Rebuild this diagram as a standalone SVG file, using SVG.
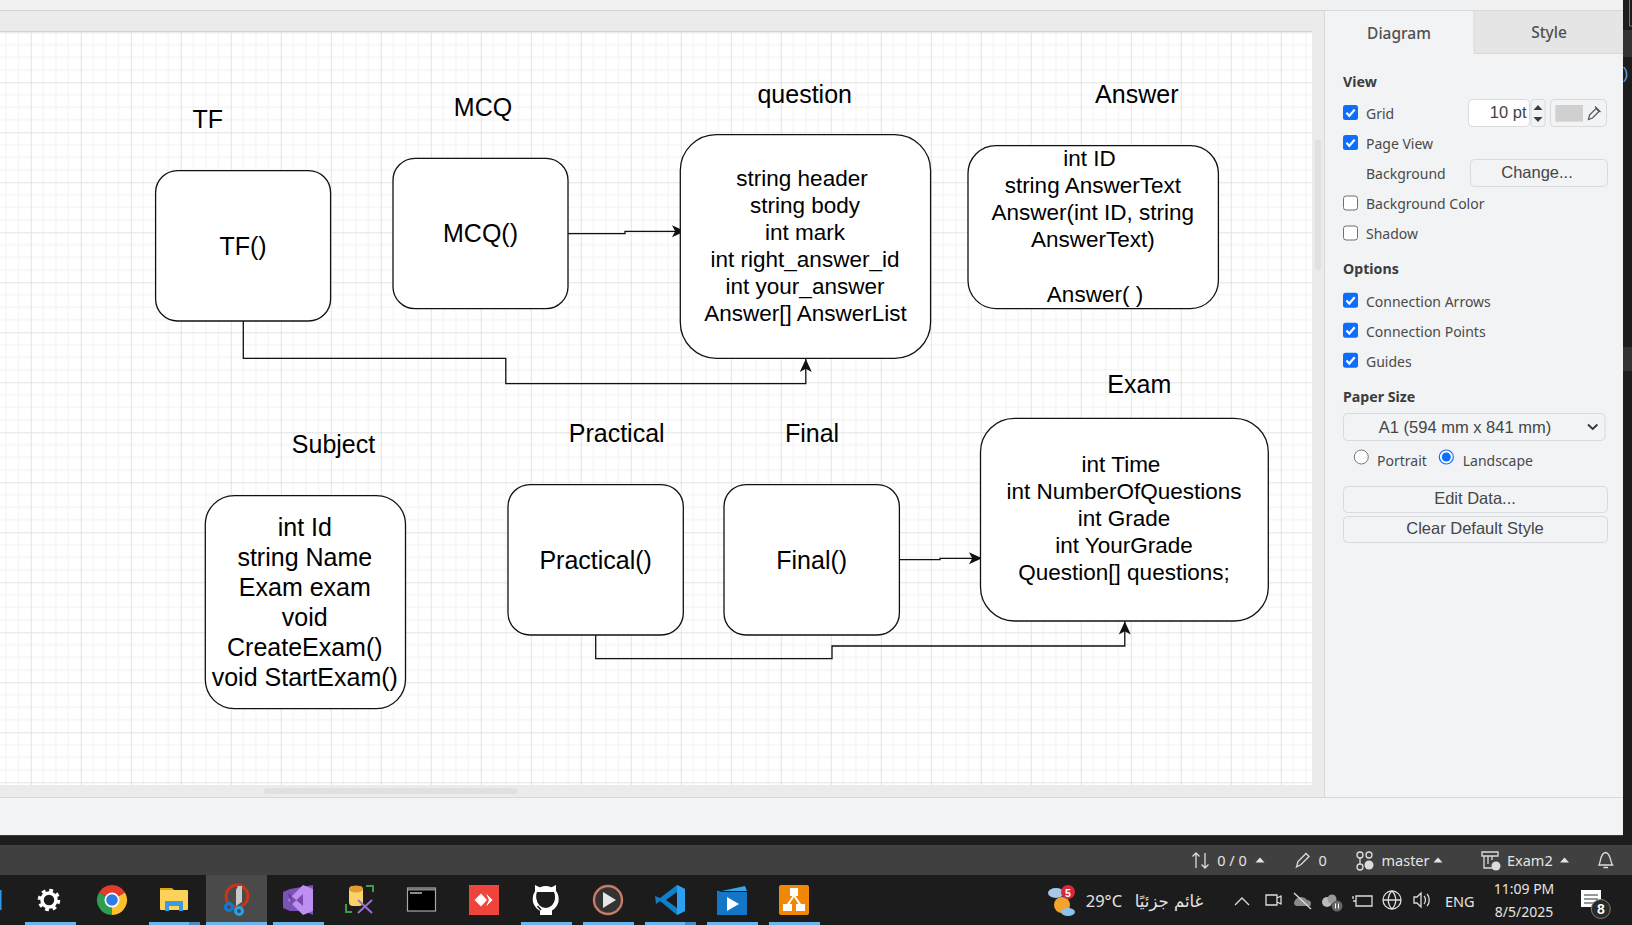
<svg xmlns="http://www.w3.org/2000/svg" width="1632" height="925" viewBox="0 0 1632 925">
<style>
text{font-family:"Liberation Sans",Arial,sans-serif;fill:#000}
.t{font-size:25px;text-anchor:middle}
.b{font-size:22.5px;text-anchor:middle}
.box{fill:#fff;stroke:#111;stroke-width:1.3}
.edge{fill:none;stroke:#111;stroke-width:1.3;marker-end:url(#arr)}
.ui{font-family:"Noto Sans","Open Sans",sans-serif;font-size:14px;fill:#4a4a4a}
.h{font-family:"Noto Sans","Open Sans",sans-serif;font-size:14.2px;font-weight:700;fill:#3c3c3c}
.tab{font-family:"Noto Sans","Open Sans",sans-serif;font-size:15.5px;font-weight:500;fill:#505050;text-anchor:middle}
.btn{fill:#f1f3f5;stroke:#d9dade;stroke-width:1}
.btxt{font-size:16.5px;fill:#454545;text-anchor:middle}
.cb{fill:#fff;stroke:#6f6f6f;stroke-width:1}
.s{font-family:"Noto Sans","Open Sans",sans-serif;font-size:14.5px;fill:#e4e4e4}
.ic{fill:none;stroke:#dcdcdc;stroke-width:1.3}
.ul{fill:#6cb4ee}
</style>
<defs>
<pattern id="grid" patternUnits="userSpaceOnUse" x="30.8" y="32.3" width="50" height="50">
<rect width="50" height="50" fill="#fff"/>
<path d="M12.5 0V50M25 0V50M37.5 0V50M0 12.5H50M0 25H50M0 37.5H50" stroke="#f5f5f5" stroke-width="1.3" fill="none"/>
<path d="M0.4 0V50M0 0.4H50" stroke="#e0e0e0" stroke-width="1" fill="none"/>
</pattern>
<marker id="arr" markerUnits="userSpaceOnUse" markerWidth="15" markerHeight="15" refX="13" refY="7" orient="auto">
<path d="M0 1L13 7L0 13L3.2 7Z" fill="#111"/>
</marker>
<g id="chk"><rect width="15" height="15" rx="2.5" fill="#0d6efd"/><path d="M3.4 7.8L6.3 10.8L11.7 4.6" fill="none" stroke="#fff" stroke-width="2.2"/></g>
<g id="caret"><path d="M-4.5 2.5L0 -2.5L4.5 2.5Z" fill="#e4e4e4"/></g>
</defs>

<g id="chrome-bg">
<rect width="1632" height="925" fill="#1d1d1d"/>
<rect x="0" y="0" width="1623" height="10" fill="#f0f1f3"/>
<rect x="0" y="10" width="1325" height="22" fill="#ebebeb"/>
<path d="M0 10.5H1325M0 31.5H1312" stroke="#d2d2d2" stroke-width="1"/>
<rect x="0" y="32" width="1312" height="753" fill="url(#grid)"/>
<rect x="0" y="785" width="1325" height="12" fill="#ebebeb"/>
<rect x="264" y="788" width="253" height="6" rx="2" fill="#e0e0e0"/>
<rect x="1312" y="32" width="13" height="765" fill="#ebebeb"/>
<rect x="1315" y="140" width="6" height="130" rx="2" fill="#e0e0e0"/>
<rect x="0" y="797" width="1623" height="39" fill="#f1f3f5"/>
<path d="M0 797.5H1623" stroke="#d9d9d9" stroke-width="1"/>
<path d="M0 835.5H1623" stroke="#3a3a3a" stroke-width="1"/>
<rect x="1623" y="30" width="9" height="27" fill="#333"/>
<rect x="1623" y="347" width="9" height="24" fill="#333"/>
<path d="M1629.5 0V26H1632" fill="none" stroke="#7a60e0" stroke-width="1"/>
<text x="1623" y="79" font-size="16" style="fill:#5aa9e6">)</text>
</g>

<g id="connectors">
<path class="edge" d="M243.3 321V358.3H505.8V383.6H805.8V359"/>
<path class="edge" d="M568 233.6H625V231.3H685"/>
<path class="edge" d="M899.4 559.6H940V558.3H982"/>
<path class="edge" d="M595.7 635V658.6H832V646H1124.8V621.5"/>
</g>

<g id="node-tf">
<rect class="box" x="155.6" y="170.6" width="175" height="150.4" rx="22"/>
<text class="t" x="243" y="255">TF()</text>
<text class="t" x="207.7" y="127.7">TF</text>
</g>
<g id="node-mcq">
<rect class="box" x="393" y="158.3" width="175" height="150.4" rx="22"/>
<text class="t" x="480.5" y="242">MCQ()</text>
<text class="t" x="483" y="115.7">MCQ</text>
</g>
<g id="node-question">
<rect class="box" x="680.3" y="134.6" width="250.3" height="223.7" rx="36"/>
<text class="t" x="804.7" y="103">question</text>
<text class="b" x="802" y="186.3">string header</text>
<text class="b" x="805" y="213.3">string body</text>
<text class="b" x="805" y="240.3">int mark</text>
<text class="b" x="805" y="267.3">int right_answer_id</text>
<text class="b" x="805" y="294.3">int your_answer</text>
<text class="b" x="805.5" y="321.3">Answer[] AnswerList</text>
</g>
<g id="node-answer">
<rect class="box" x="968" y="145.6" width="250.4" height="163" rx="28"/>
<text class="t" x="1136.8" y="103">Answer</text>
<text class="b" x="1089.6" y="166.2">int ID</text>
<text class="b" x="1092.8" y="193.2">string AnswerText</text>
<text class="b" x="1092.8" y="220.2">Answer(int ID, string</text>
<text class="b" x="1092.8" y="247.2">AnswerText)</text>
<text class="b" x="1095" y="301.5">Answer( )</text>
</g>
<g id="node-subject">
<rect class="box" x="205.3" y="495.6" width="200.2" height="213" rx="29"/>
<text class="t" x="333.5" y="453">Subject</text>
<text class="t" x="304.8" y="536">int Id</text>
<text class="t" x="304.8" y="566">string Name</text>
<text class="t" x="304.8" y="596">Exam exam</text>
<text class="t" x="304.8" y="626">void</text>
<text class="t" x="304.8" y="656">CreateExam()</text>
<text class="t" x="304.8" y="686">void StartExam()</text>
</g>
<g id="node-practical">
<rect class="box" x="508" y="484.6" width="175.3" height="150.4" rx="22"/>
<text class="t" x="595.7" y="569.3">Practical()</text>
<text class="t" x="616.7" y="442.3">Practical</text>
</g>
<g id="node-final">
<rect class="box" x="724" y="484.6" width="175.4" height="150.4" rx="22"/>
<text class="t" x="811.7" y="569">Final()</text>
<text class="t" x="812" y="442">Final</text>
</g>
<g id="node-exam">
<rect class="box" x="980.5" y="418.3" width="287.8" height="202.7" rx="34"/>
<text class="t" x="1139.3" y="393">Exam</text>
<text class="b" x="1121" y="472.2">int Time</text>
<text class="b" x="1124" y="499.2">int NumberOfQuestions</text>
<text class="b" x="1124" y="526.2">int Grade</text>
<text class="b" x="1124" y="553.2">int YourGrade</text>
<text class="b" x="1124" y="580.2">Question[] questions;</text>
</g>

<g id="panel">
<rect x="1325" y="10" width="298" height="787" fill="#f1f3f5"/>
<path d="M1324.5 10V797" stroke="#d9d9d9" stroke-width="1"/>
<rect x="1474" y="11" width="149" height="42" fill="#e5e5e5"/>
<path d="M1325 10.5H1623M1474 11V53.5H1623" fill="none" stroke="#d9d9d9" stroke-width="1"/>
<text class="tab" x="1399" y="38.5">Diagram</text>
<text class="tab" x="1549" y="38">Style</text>

<text class="h" x="1343" y="87">View</text>
<use href="#chk" x="1343" y="105"/><text class="ui" x="1366" y="119">Grid</text>
<rect class="btn" x="1468.5" y="99.5" width="61" height="27" rx="4" style="fill:#fff"/>
<text x="1526.5" y="118" style="font-size:16.5px;fill:#454545;text-anchor:end">10 pt</text>
<rect class="btn" x="1531" y="99.5" width="14" height="27" rx="3"/>
<path d="M1533.5 110L1538 105L1542.5 110ZM1533.5 117L1538 122L1542.5 117Z" fill="#3c3c3c"/>
<rect class="btn" x="1550.5" y="99.5" width="56" height="27" rx="4"/>
<rect x="1555.3" y="105" width="27.7" height="16.7" fill="#d0d0d0"/>
<path d="M1588.5 119.5L1589.5 115L1596 108.5L1599 111.5L1592.5 118L1588.5 119.5ZM1595 106.5L1600.5 112" fill="none" stroke="#555" stroke-width="1.2"/>
<use href="#chk" x="1343" y="135"/><text class="ui" x="1366" y="149">Page View</text>
<text class="ui" x="1366" y="179">Background</text>
<rect class="btn" x="1470.5" y="159.5" width="137" height="27" rx="4"/>
<text class="btxt" x="1537" y="177.7">Change...</text>
<rect class="cb" x="1343.5" y="196" width="14" height="14" rx="2.5"/><text class="ui" x="1366" y="209">Background Color</text>
<rect class="cb" x="1343.5" y="226" width="14" height="14" rx="2.5"/><text class="ui" x="1366" y="239">Shadow</text>
<text class="h" x="1343" y="274.3">Options</text>
<use href="#chk" x="1343" y="292.7"/><text class="ui" x="1366" y="306.7">Connection Arrows</text>
<use href="#chk" x="1343" y="322.7"/><text class="ui" x="1366" y="336.7">Connection Points</text>
<use href="#chk" x="1343" y="352.7"/><text class="ui" x="1366" y="366.7">Guides</text>
<text class="h" x="1343" y="402">Paper Size</text>
<rect class="btn" x="1343.5" y="413.5" width="261.5" height="27" rx="4"/>
<text class="btxt" x="1465" y="433.3">A1 (594 mm x 841 mm)</text>
<path d="M1588 424.5L1592.7 429L1597.4 424.5" fill="none" stroke="#333" stroke-width="1.8"/>
<circle cx="1361.3" cy="457" r="7" fill="#fff" stroke="#777" stroke-width="1"/>
<text class="ui" x="1377" y="465.7">Portrait</text>
<circle cx="1446.3" cy="457" r="7" fill="#fff" stroke="#0d6efd" stroke-width="1.2"/>
<circle cx="1446.3" cy="457" r="4.5" fill="#0d6efd"/>
<text class="ui" x="1462.7" y="465.7">Landscape</text>
<rect class="btn" x="1343.5" y="486.5" width="264" height="26" rx="4"/>
<text class="btxt" x="1475" y="504">Edit Data...</text>
<rect class="btn" x="1343.5" y="516.5" width="264" height="26" rx="4"/>
<text class="btxt" x="1475" y="534">Clear Default Style</text>
</g>

<g id="statusbar">
<rect x="0" y="845" width="1632" height="30" fill="#404040"/>
<path class="ic" d="M1196 868V853M1192.5 856.5L1196 853L1199.5 856.5M1205 853V868M1201.5 864.5L1205 868L1208.5 864.5"/>
<text class="s" x="1232" y="865.7" text-anchor="middle">0 / 0</text>
<use href="#caret" x="1260" y="860"/>
<path class="ic" d="M1296.5 867L1298 861.5L1306 853.5L1309 856.5L1301 864.5Z"/>
<text class="s" x="1322.6" y="865.7" text-anchor="middle">0</text>
<path class="ic" d="M1360 858V864"/><circle class="ic" cx="1360" cy="855" r="3"/><circle class="ic" cx="1360" cy="867" r="3"/><circle class="ic" cx="1369" cy="855" r="3"/><circle cx="1369" cy="865" r="4.5" fill="#dcdcdc"/>
<text class="s" x="1381.5" y="865.7">master</text>
<use href="#caret" x="1438" y="860"/>
<path class="ic" d="M1482 852H1498V856H1482ZM1484 856V868H1494M1488 856V864M1492 856V860"/><circle cx="1496" cy="866" r="4.5" fill="#dcdcdc"/>
<text class="s" x="1507" y="865.7">Exam2</text>
<use href="#caret" x="1564.5" y="860"/>
<path class="ic" d="M1599 865C1601 862 1600 853 1605.6 852.5C1611 853 1610 862 1612.5 865ZM1603.5 867.5H1608"/>
</g>

<g id="taskbar">
<rect x="0" y="875" width="1632" height="50" fill="#1c1c1c"/>
<rect x="206" y="875" width="61" height="50" fill="#4a4a4a"/>
<rect x="0" y="890" width="1.5" height="20" fill="#2f9be8"/>
<rect class="ul" x="25" y="922" width="51" height="3"/>
<rect class="ul" x="149" y="922" width="40" height="3"/><rect x="189" y="922" width="11" height="3" fill="#4d8cc0"/>
<rect class="ul" x="206" y="922" width="61" height="3"/>
<rect class="ul" x="273" y="922" width="51" height="3"/>
<rect class="ul" x="521" y="922" width="51" height="3"/>
<rect class="ul" x="583" y="922" width="51" height="3"/>
<rect class="ul" x="645" y="922" width="40" height="3"/><rect x="685" y="922" width="11" height="3" fill="#4d8cc0"/>
<rect class="ul" x="707" y="922" width="51" height="3"/>
<rect class="ul" x="769" y="922" width="51" height="3"/>

<g id="ic-gear"><circle cx="49" cy="900" r="7" fill="none" stroke="#fff" stroke-width="3.5"/><circle cx="49" cy="900" r="9.5" fill="none" stroke="#fff" stroke-width="3.5" stroke-dasharray="3.7 3.76"/></g>
<g id="ic-chrome">
<path d="M112 900L99 892.5A15 15 0 0 1 125 892.5Z" fill="#e33b2e"/>
<path d="M112 900L125 892.5A15 15 0 0 1 112 915Z" fill="#fbc02d"/>
<path d="M112 900L112 915A15 15 0 0 1 99 892.5Z" fill="#2e9e4f"/>
<circle cx="112" cy="900" r="7.5" fill="#fff"/><circle cx="112" cy="900" r="5.8" fill="#2f7ae5"/>
</g>
<g id="ic-folder">
<path d="M160 888H172L175 891V895H160Z" fill="#e2a50f"/>
<rect x="160" y="890" width="28" height="20" rx="1" fill="#fcd25a"/>
<path d="M165 911V901H183V911H179V906H169V911Z" fill="#3a9be0"/>
</g>
<g id="ic-snip">
<circle cx="237" cy="896" r="11" fill="none" stroke="#c8361a" stroke-width="3"/>
<path d="M238 886L242 886L242 902L236 906L236 890Z" fill="#c9c9c9"/>
<circle cx="229" cy="907" r="3.5" fill="none" stroke="#0f7bd8" stroke-width="3"/>
<circle cx="239" cy="911" r="3.5" fill="none" stroke="#24a3ea" stroke-width="3"/>
</g>
<g id="ic-vs">
<path d="M283 892L290 889L313 885V915L304 911L290 911L283 908Z" fill="#7a52b8"/>
<path d="M303 885L313 889V911L303 915L288 900Z" fill="#bd8ff0"/>
<path d="M288 893L303 906V894L291 905Z" fill="#5c2d91" opacity=".7"/>
</g>
<g id="ic-sql">
<rect x="349" y="886" width="14" height="20" rx="4" fill="#f7d36a"/>
<ellipse cx="356" cy="889" rx="7" ry="3.5" fill="#e59a2d"/>
<path d="M366 886H373V892M346 904V912H352" fill="none" stroke="#3f9c44" stroke-width="2"/>
<path d="M358 900L372 913M372 900L358 913" stroke="#9a6fd0" stroke-width="2"/>
</g>
<g id="ic-term">
<rect x="407.5" y="888" width="28" height="23" fill="#000" stroke="#a8a8a8" stroke-width="1.2"/>
<path d="M407.5 889.5H435.5" stroke="#888" stroke-width="2"/>
<path d="M410 893H422" stroke="#bbb" stroke-width="1.5"/>
</g>
<g id="ic-anydesk">
<rect x="469" y="885" width="30" height="30" fill="#ef443b"/>
<path d="M481 893.5L487 900L481 906.5L474.5 900Z" fill="#fff"/>
<path d="M486 893.5L492.5 900L486 906.5L489 900Z" fill="#fff"/>
</g>
<g id="ic-github">
<circle cx="545.7" cy="899" r="11" fill="none" stroke="#fff" stroke-width="4"/>
<path d="M535 885L541 888H550L556 885V893H535ZM540 908H552V915H540Z" fill="#fff"/>
<path d="M537.5 906L541 910" stroke="#1c1c1c" stroke-width="1.5"/>
<path d="M537 892H554C557 899 553 906 546 906C539 906 534 899 537 892Z" fill="#1c1c1c"/>
</g>
<g id="ic-player">
<circle cx="608" cy="900" r="14" fill="#333" stroke="#c87b62" stroke-width="2.4"/>
<path d="M603 892L616 900L603 908Z" fill="#e6e6e6"/>
</g>
<g id="ic-vscode">
<path d="M677 885L685 889V911L677 915L660 901L656 904L655 896L660 898Z" fill="#0f7fcc"/>
<path d="M677 885L685 889V911L677 915Z" fill="#2ba0ee"/>
<path d="M677 892V908L666 900Z" fill="#1c1c1c"/>
</g>
<g id="ic-movie">
<path d="M717 892L745 886L747 891H717Z" fill="#38a4e8"/>
<rect x="717" y="892" width="30" height="23" fill="#1476c6"/>
<path d="M727 897L739 904L727 911Z" fill="#fff"/>
</g>
<g id="ic-drawio">
<rect x="779" y="885" width="30" height="30" rx="2" fill="#f08705"/>
<path d="M790 888H798V896H795.5L801 904H805V911H796V904H798.5L794 897L789.5 904H792V911H783V904H787L792.5 896H790Z" fill="#fff"/>
</g>

<g id="tray">
<circle cx="1062" cy="905" r="8" fill="#f2a32c"/>
<ellipse cx="1056" cy="893" rx="8" ry="5" fill="#a8c8ea"/>
<ellipse cx="1068" cy="912" rx="7" ry="4" fill="#8fc1ee"/>
<circle cx="1068" cy="892" r="7" fill="#d6293a"/>
<text x="1068" y="896.5" text-anchor="middle" style="font-size:10.5px;font-weight:700;fill:#fff">5</text>
<text class="s" x="1085.7" y="907" style="font-size:16.5px">29°C</text>
<text x="1169" y="907" text-anchor="middle" direction="rtl" style="font-family:'DejaVu Sans',sans-serif;font-size:16.5px;fill:#e4e4e4">غائم جزئيًا</text>
<path class="ic" d="M1235 905L1242 898L1249 905"/>
<path class="ic" d="M1266 895H1277V905H1266ZM1277 898L1281 896V904L1277 902"/>
<path d="M1294 904C1294 898 1302 894 1307 900C1311 900 1312 904 1310 906H1296Z" fill="#8a8a8a"/>
<path d="M1294 893L1311 909" stroke="#dcdcdc" stroke-width="1.3"/>
<circle cx="1327" cy="902" r="5" fill="#bbb"/><circle cx="1332" cy="899" r="4.5" fill="#999"/><circle cx="1337" cy="906" r="5.5" fill="#666"/>
<path d="M1335.5 903.5V908.5M1338.5 903.5V908.5" stroke="#fff" stroke-width="1"/>
<path class="ic" d="M1356 896H1372V906H1356ZM1356 901H1353M1353 896V899"/>
<circle class="ic" cx="1392" cy="900" r="9"/><path class="ic" d="M1383 900H1401M1392 891C1387 896 1387 904 1392 909M1392 891C1397 896 1397 904 1392 909"/>
<path class="ic" d="M1414 897H1417L1421 893V907L1417 903H1414ZM1424 896C1426 898 1426 902 1424 904M1427 894C1430 897 1430 903 1427 906"/>
<text class="s" x="1445" y="906.7">ENG</text>
<text class="s" x="1524" y="894" text-anchor="middle" style="font-size:14px">11:09 PM</text>
<text class="s" x="1524" y="917.3" text-anchor="middle" style="font-size:14px">8/5/2025</text>
<rect x="1581" y="890" width="20" height="17" fill="#fff"/>
<path d="M1584 895H1598M1584 899H1598M1584 903H1594" stroke="#333" stroke-width="1.2"/>
<circle cx="1600.8" cy="909" r="9.5" fill="#2a2a2a" stroke="#7d7d7d" stroke-width="1"/>
<text x="1600.8" y="914" text-anchor="middle" style="font-size:14px;font-weight:700;fill:#fff">8</text>
</g>
</g>
</svg>
